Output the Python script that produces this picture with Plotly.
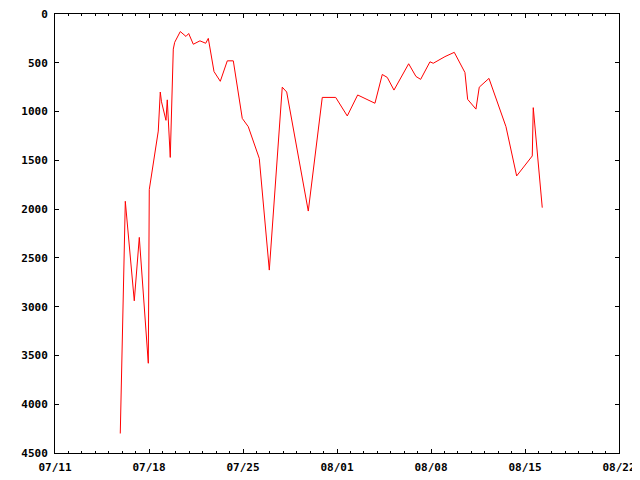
import plotly.graph_objects as go

# timestamps (year is arbitrary, only month/day shown)
times = [
    "2007-07-15 20:40", "2007-07-16 05:40", "2007-07-16 21:40", "2007-07-17 06:40",
    "2007-07-17 22:45", "2007-07-18 00:30", "2007-07-18 16:35", "2007-07-18 20:10",
    "2007-07-18 22:20", "2007-07-19 06:20", "2007-07-19 08:40", "2007-07-19 14:00",
    "2007-07-19 19:25", "2007-07-19 21:55", "2007-07-20 07:55", "2007-07-20 18:05",
    "2007-07-20 22:55", "2007-07-21 07:10", "2007-07-21 19:05", "2007-07-22 05:20",
    "2007-07-22 10:00", "2007-07-22 14:15", "2007-07-22 20:10", "2007-07-23 07:25",
    "2007-07-23 19:55", "2007-07-24 06:40", "2007-07-24 22:40", "2007-07-25 09:25",
    "2007-07-26 05:05", "2007-07-26 23:00", "2007-07-27 22:10", "2007-07-28 06:05",
    "2007-07-29 20:40", "2007-07-30 21:40", "2007-07-31 21:40", "2007-08-01 18:20",
    "2007-08-02 12:55", "2007-08-03 19:50", "2007-08-04 08:55", "2007-08-04 17:50",
    "2007-08-05 05:50", "2007-08-06 08:05", "2007-08-06 21:05", "2007-08-07 05:30",
    "2007-08-07 22:10", "2007-08-08 04:00", "2007-08-09 00:55", "2007-08-09 17:35",
    "2007-08-10 12:40", "2007-08-10 17:30", "2007-08-11 08:20", "2007-08-11 14:15",
    "2007-08-12 07:35", "2007-08-13 14:00", "2007-08-14 09:05", "2007-08-15 13:00",
    "2007-08-15 14:45", "2007-08-16 06:50",
]
values = [
    4300, 1920, 2940, 2290,
    3580, 1800, 1200, 800,
    900, 1090, 880, 1470,
    360, 290, 180, 230,
    200, 310, 275, 300,
    250, 400, 590, 690,
    480, 480, 1070, 1155,
    1480, 2625, 750, 800,
    2020, 855, 855, 1045,
    830, 915, 620, 650,
    780, 510, 640, 670,
    490, 505, 437, 393,
    600, 875, 975, 750,
    660, 1155, 1660, 1455,
    960, 1985,
]

x_ticks = ["2007-07-11", "2007-07-18", "2007-07-25", "2007-08-01",
           "2007-08-08", "2007-08-15", "2007-08-22"]
x_labels = ["07/11", "07/18", "07/25", "08/01", "08/08", "08/15", "08/22"]
y_ticks = [0, 500, 1000, 1500, 2000, 2500, 3000, 3500, 4000, 4500]

fig = go.Figure(
    go.Scatter(x=times, y=values, mode="lines",
               line=dict(color="#ff0000", width=1), showlegend=False)
)

axis_common = dict(
    showline=True, linecolor="black", linewidth=1, mirror="ticks",
    ticks="inside", tickcolor="black", ticklen=4, tickwidth=1,
    showgrid=False, zeroline=False, automargin=False,
    ticklabeloverflow="allow",
)

fig.update_xaxes(
    **axis_common,
    type="date",
    range=[x_ticks[0], x_ticks[-1]],
    tickmode="array", tickvals=x_ticks, ticktext=x_labels,
    minor=dict(dtick=86400000, ticks="inside", ticklen=2, tickcolor="black",
               showgrid=False),
    ticklabelstandoff=4,
)
fig.update_yaxes(
    **axis_common,
    range=[4500, 0],
    tickmode="array", tickvals=y_ticks, ticktext=[str(v) for v in y_ticks],
    ticklabelstandoff=4,
)

# page body has an 8px margin, so the figure is sized/margined to compensate
fig.update_layout(
    width=632, height=472,
    margin=dict(l=47, r=21, t=6, b=27),
    paper_bgcolor="white", plot_bgcolor="white",
    font=dict(family="DejaVu Sans Mono, monospace", size=11, color="black",
              weight="bold"),
)

fig.write_html("out.html")
